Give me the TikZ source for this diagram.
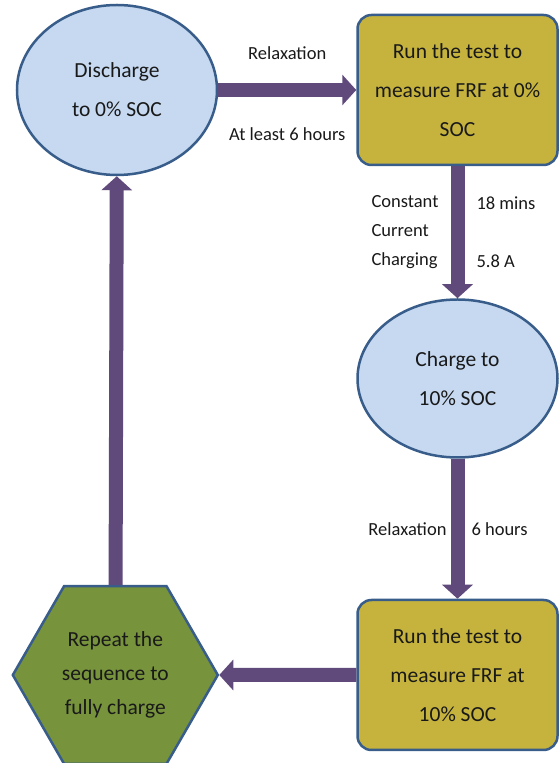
\documentclass[tikz,border=0pt]{standalone}
\usepackage{fontspec}
\setmainfont{Carlito}
\usetikzlibrary{arrows.meta,positioning,shapes.geometric}
\definecolor{socblue}{RGB}{198,217,241}
\definecolor{edgeblue}{RGB}{56,93,138}
\definecolor{testyellow}{RGB}{197,179,62}
\definecolor{repeatgreen}{RGB}{119,147,60}
\definecolor{flowpurple}{RGB}{96,74,123}
\definecolor{inkgray}{RGB}{25,25,25}

\begin{document}
\begin{tikzpicture}[
    x=1pt, y=1pt,
    font=\fontsize{21.5}{39}\selectfont,
    text=inkgray,
    socnode/.style={
        ellipse,
        draw=edgeblue,
        line width=2.5pt,
        fill=socblue,
        align=center,
        minimum width=200pt
    },
    testbox/.style={
        rectangle,
        rounded corners=14pt,
        draw=edgeblue,
        line width=2.5pt,
        fill=testyellow,
        align=center,
        minimum width=200pt,
        minimum height=150pt
    },
    repeatbox/.style={
        regular polygon,
        regular polygon sides=6,
        draw=edgeblue,
        line width=2.5pt,
        fill=repeatgreen,
        align=center,
        minimum size=205pt,
        font=\fontsize{21.5}{34}\selectfont
    },
    flow/.style={-{Triangle[width=30pt,length=14pt]}, line width=14pt, draw=flowpurple},
    lbl/.style={font=\fontsize{18.5}{29}\selectfont, inner sep=2pt}
]
\useasboundingbox (0,0) rectangle (559,763);

% Main modules
\node[socnode, minimum height=170pt] (discharge) at (117,673)
    {Discharge\\to 0\% SOC};

\node[testbox, right=138pt of discharge] (test0)
    {Run the test to\\measure FRF at 0\%\\SOC};

\node[socnode, minimum height=158pt, below=132pt of test0] (charge)
    {Charge to\\10\% SOC};

\node[testbox, below=140pt of charge] (test10)
    {Run the test to\\measure FRF at\\10\% SOC};

\node[repeatbox, left=137pt of test10] (repeat)
    {Repeat the\\sequence to\\fully charge};

% Charging loop
\draw[flow] (discharge) --
    node[lbl, above=21pt] {Relaxation}
    node[lbl, below=29pt] {At least 6 hours} (test0);
\draw[flow] (test0) --
    node[lbl, left=10pt, align=left] {Constant\\Current\\Charging}
    node[lbl, right=10pt, align=left] {18 mins\\[29pt]5.8 A} (charge);
\draw[flow] (charge) --
    node[lbl, left=2pt] {Relaxation}
    node[lbl, right=5pt] {6 hours} (test10);
\draw[flow] (test10) -- (repeat);
\draw[flow] (repeat) -- (discharge);

\end{tikzpicture}
\end{document}
